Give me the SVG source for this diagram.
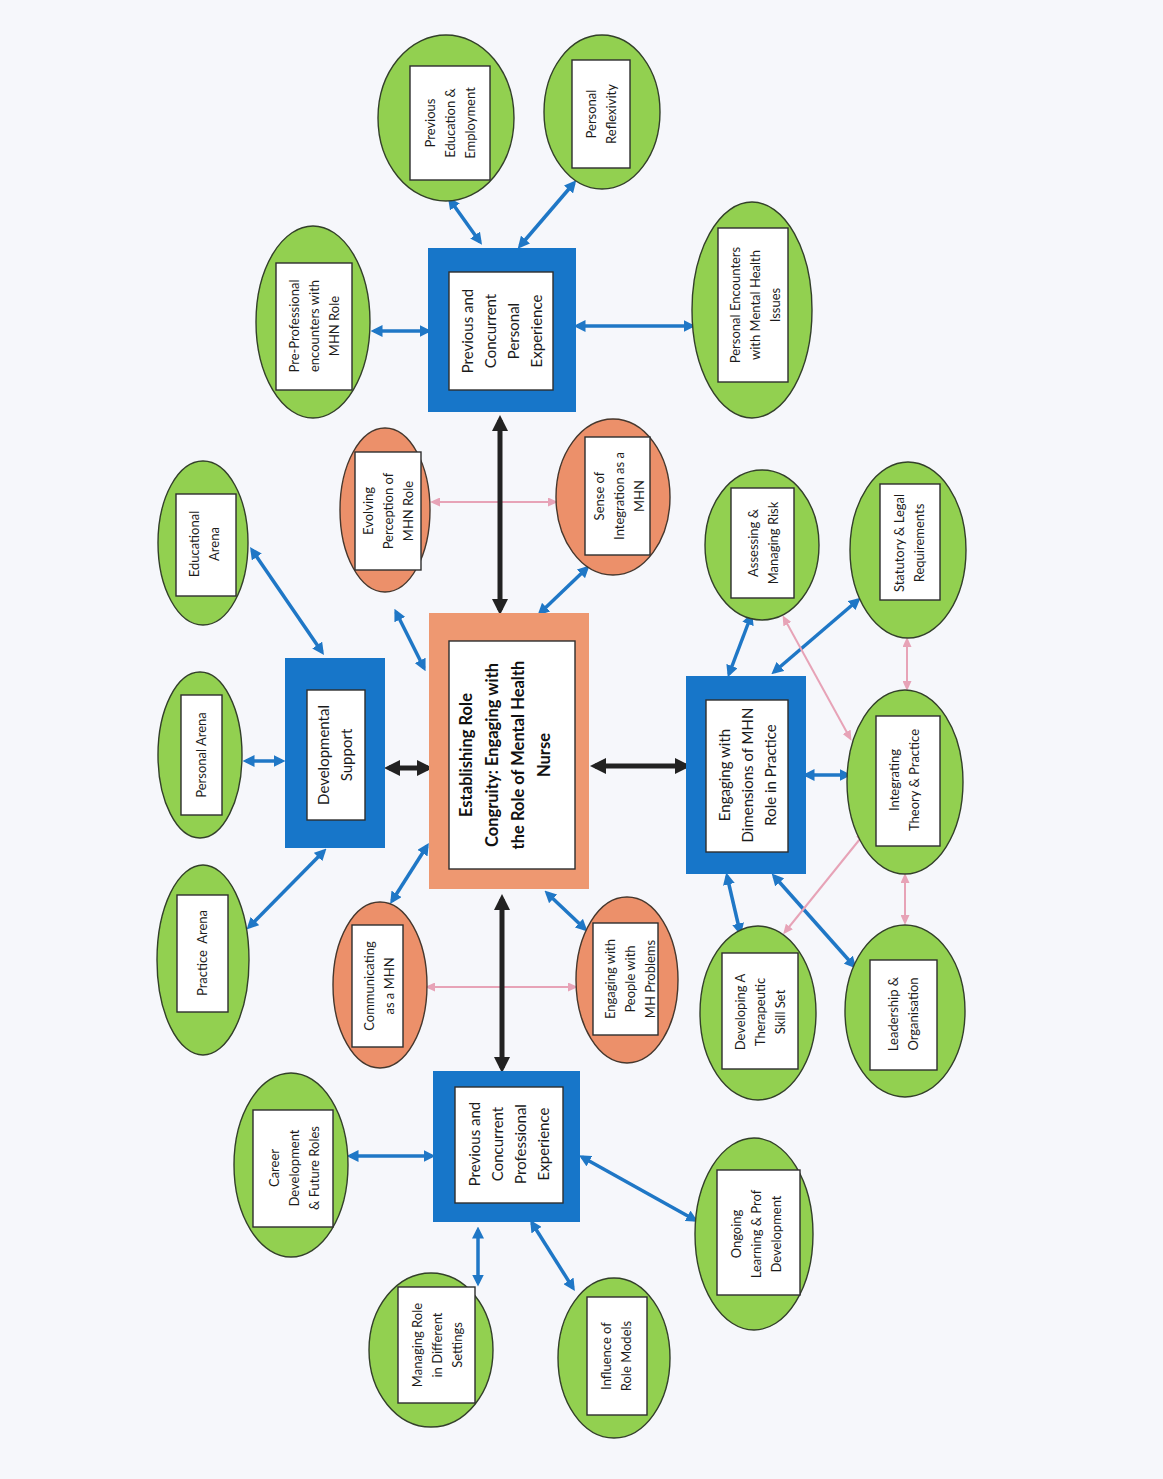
<svg xmlns="http://www.w3.org/2000/svg" width="1163" height="1479" viewBox="0 0 1163 1479">
  <style>
    .g { fill: #92d050; stroke: #33402a; stroke-width: 1.4; }
    .o { fill: #ec906a; stroke: #46372d; stroke-width: 1.4; }
    .lbl { fill: #ffffff; stroke: #2e2e2e; stroke-width: 1.4; }
    .blue { fill: #1776c9; }
    .salmon { fill: #ee9871; }
    .t { font-family: Lato, "Liberation Sans", sans-serif; font-size: 13px; fill: #1b1b1b; text-anchor: middle; }
    .tb { font-family: Lato, "Liberation Sans", sans-serif; font-size: 15px; fill: #1b1b1b; text-anchor: middle; }
    .tc { font-family: Lato, "Liberation Sans", sans-serif; font-size: 16.5px; font-weight: bold; fill: #111; text-anchor: middle; }
    .ab { stroke: #1f77c6; stroke-width: 3.5; fill: none; marker-start: url(#hb); marker-end: url(#hb); }
    .ak { stroke: #222; stroke-width: 5; fill: none; marker-start: url(#hk); marker-end: url(#hk); }
    .ap { stroke: #e7a3b7; stroke-width: 2; fill: none; marker-start: url(#hp); marker-end: url(#hp); }
  </style>
  <defs>
    <marker id="hb" markerUnits="userSpaceOnUse" markerWidth="12" markerHeight="12" refX="8.5" refY="6" orient="auto-start-reverse">
      <path d="M0,0 L12,6 L0,12 z" fill="#1f77c6"/>
    </marker>
    <marker id="hk" markerUnits="userSpaceOnUse" markerWidth="16" markerHeight="16" refX="11" refY="8" orient="auto-start-reverse">
      <path d="M0,0 L16,8 L0,16 z" fill="#222"/>
    </marker>
    <marker id="hp" markerUnits="userSpaceOnUse" markerWidth="10" markerHeight="9" refX="7" refY="4.5" orient="auto-start-reverse">
      <path d="M0,0 L10,4.5 L0,9 z" fill="#e7a3b7"/>
    </marker>
  </defs>

  <rect x="0" y="0" width="1163" height="1479" fill="#f6f7fb"/>

  <!-- connectors -->
  <g id="connectors">
    <line class="ab" x1="374" y1="331" x2="428" y2="331"/>
    <line class="ab" x1="450" y1="200" x2="480" y2="242"/>
    <line class="ab" x1="574" y1="183" x2="520" y2="246"/>
    <line class="ab" x1="577" y1="326" x2="692" y2="326"/>
    <line class="ab" x1="396" y1="612" x2="424" y2="668"/>
    <line class="ab" x1="587" y1="568" x2="540" y2="613"/>
    <line class="ab" x1="252" y1="550" x2="322" y2="652"/>
    <line class="ab" x1="246" y1="761" x2="282" y2="761"/>
    <line class="ab" x1="249" y1="927" x2="324" y2="851"/>
    <line class="ab" x1="392" y1="901" x2="427" y2="846"/>
    <line class="ab" x1="547" y1="893" x2="585" y2="929"/>
    <line class="ab" x1="350" y1="1156" x2="432" y2="1156"/>
    <line class="ab" x1="478" y1="1230" x2="478" y2="1283"/>
    <line class="ab" x1="532" y1="1223" x2="573" y2="1288"/>
    <line class="ab" x1="582" y1="1157" x2="695" y2="1220"/>
    <line class="ab" x1="729" y1="674" x2="751" y2="616"/>
    <line class="ab" x1="774" y1="672" x2="858" y2="600"/>
    <line class="ab" x1="806" y1="775" x2="848" y2="775"/>
    <line class="ab" x1="727" y1="876" x2="740" y2="932"/>
    <line class="ab" x1="774" y1="876" x2="854" y2="966"/>

    <line class="ap" x1="433" y1="502" x2="555" y2="502"/>
    <line class="ap" x1="428" y1="987" x2="575" y2="987"/>
    <line class="ap" x1="784" y1="618" x2="850" y2="738"/>
    <line class="ap" x1="907" y1="640" x2="907" y2="688"/>
    <line class="ap" x1="864" y1="834" x2="785" y2="932"/>
    <line class="ap" x1="905" y1="876" x2="905" y2="922"/>

    <line class="ak" x1="500" y1="420" x2="500" y2="610"/>
    <line class="ak" x1="389" y1="768" x2="428" y2="768"/>
    <line class="ak" x1="595" y1="766" x2="686" y2="766"/>
    <line class="ak" x1="502" y1="899" x2="502" y2="1068"/>
  </g>

  <!-- central concept -->
  <g id="core">
    <rect class="salmon" x="429" y="613" width="160" height="276"/>
    <rect class="lbl" x="449" y="641" width="126" height="228"/>
    <text class="tc" transform="translate(505,755) rotate(-90)"><tspan x="0" y="-33.2">Establishing Role</tspan><tspan x="0" y="-7.2">Congruity: Engaging with</tspan><tspan x="0" y="18.8">the Role of Mental Health</tspan><tspan x="0" y="44.8">Nurse</tspan></text>
  </g>

  <!-- personal experience cluster -->
  <g id="personal-experience">
    <rect class="blue" x="428" y="248" width="148" height="164"/>
    <rect class="lbl" x="449" y="272" width="104" height="118"/>
    <text class="tb" transform="translate(502,331) rotate(-90)"><tspan x="0" y="-29.2">Previous and</tspan><tspan x="0" y="-6.2">Concurrent</tspan><tspan x="0" y="16.8">Personal</tspan><tspan x="0" y="39.8">Experience</tspan></text>
  </g>
  <g id="pre-professional">
    <ellipse class="g" cx="313" cy="322" rx="57" ry="96"/>
    <rect class="lbl" x="276" y="263" width="76" height="127"/>
    <text class="t" transform="translate(314,326) rotate(-90)"><tspan x="0" y="-15.4">Pre-Professional</tspan><tspan x="0" y="4.6">encounters with</tspan><tspan x="0" y="24.6">MHN Role</tspan></text>
  </g>
  <g id="previous-education">
    <ellipse class="g" cx="446" cy="118" rx="68" ry="83"/>
    <rect class="lbl" x="410" y="66" width="80" height="114"/>
    <text class="t" transform="translate(450,123) rotate(-90)"><tspan x="0" y="-15.4">Previous</tspan><tspan x="0" y="4.6">Education &amp;</tspan><tspan x="0" y="24.6">Employment</tspan></text>
  </g>
  <g id="personal-reflexivity">
    <ellipse class="g" cx="602" cy="112" rx="58" ry="77"/>
    <rect class="lbl" x="572" y="60" width="58" height="108"/>
    <text class="t" transform="translate(601,114) rotate(-90)"><tspan x="0" y="-5.4">Personal</tspan><tspan x="0" y="14.6">Reflexivity</tspan></text>
  </g>
  <g id="personal-encounters">
    <ellipse class="g" cx="752" cy="310" rx="60" ry="108"/>
    <rect class="lbl" x="718" y="228" width="70" height="154"/>
    <text class="t" transform="translate(755,305) rotate(-90)"><tspan x="0" y="-15.4">Personal Encounters</tspan><tspan x="0" y="4.6">with Mental Health</tspan><tspan x="0" y="24.6">Issues</tspan></text>
  </g>

  <!-- role perception -->
  <g id="evolving-perception">
    <ellipse class="o" cx="385" cy="510" rx="45" ry="82"/>
    <rect class="lbl" x="355" y="452" width="66" height="118"/>
    <text class="t" transform="translate(388,511) rotate(-90)"><tspan x="0" y="-15.4">Evolving</tspan><tspan x="0" y="4.6">Perception of</tspan><tspan x="0" y="24.6">MHN Role</tspan></text>
  </g>
  <g id="sense-of-integration">
    <ellipse class="o" cx="613" cy="497" rx="57" ry="78"/>
    <rect class="lbl" x="585" y="437" width="65" height="118"/>
    <text class="t" transform="translate(619,496) rotate(-90)"><tspan x="0" y="-15.4">Sense of</tspan><tspan x="0" y="4.6">Integration as a</tspan><tspan x="0" y="24.6">MHN</tspan></text>
  </g>

  <!-- developmental support cluster -->
  <g id="developmental-support">
    <rect class="blue" x="285" y="658" width="100" height="190"/>
    <rect class="lbl" x="307" y="690" width="58" height="130"/>
    <text class="tb" transform="translate(335,755) rotate(-90)"><tspan x="0" y="-6.2">Developmental</tspan><tspan x="0" y="16.8">Support</tspan></text>
  </g>
  <g id="educational-arena">
    <ellipse class="g" cx="203" cy="543" rx="45" ry="82"/>
    <rect class="lbl" x="176" y="494" width="60" height="102"/>
    <text class="t" transform="translate(204,544) rotate(-90)"><tspan x="0" y="-5.4">Educational</tspan><tspan x="0" y="14.6">Arena</tspan></text>
  </g>
  <g id="personal-arena">
    <ellipse class="g" cx="200" cy="755" rx="42" ry="83"/>
    <rect class="lbl" x="181" y="695" width="41" height="120"/>
    <text class="t" transform="translate(201,755) rotate(-90)"><tspan x="0" y="4.6">Personal Arena</tspan></text>
  </g>
  <g id="practice-arena">
    <ellipse class="g" cx="203" cy="960" rx="46" ry="95"/>
    <rect class="lbl" x="177" y="895" width="51" height="117"/>
    <text class="t" transform="translate(202,953) rotate(-90)" style="white-space:pre"><tspan x="0" y="4.6">Practice  Arena</tspan></text>
  </g>

  <!-- interaction -->
  <g id="communicating">
    <ellipse class="o" cx="380" cy="985" rx="47" ry="83"/>
    <rect class="lbl" x="352" y="925" width="51" height="122"/>
    <text class="t" transform="translate(379,986) rotate(-90)"><tspan x="0" y="-5.4">Communicating</tspan><tspan x="0" y="14.6">as a MHN</tspan></text>
  </g>
  <g id="engaging-people">
    <ellipse class="o" cx="627" cy="980" rx="51" ry="83"/>
    <rect class="lbl" x="593" y="923" width="65" height="112"/>
    <text class="t" transform="translate(630,979) rotate(-90)"><tspan x="0" y="-15.4">Engaging with</tspan><tspan x="0" y="4.6">People with</tspan><tspan x="0" y="24.6">MH Problems</tspan></text>
  </g>

  <!-- professional experience cluster -->
  <g id="professional-experience">
    <rect class="blue" x="433" y="1071" width="147" height="151"/>
    <rect class="lbl" x="455" y="1087" width="108" height="116"/>
    <text class="tb" transform="translate(509,1144) rotate(-90)"><tspan x="0" y="-29.2">Previous and</tspan><tspan x="0" y="-6.2">Concurrent</tspan><tspan x="0" y="16.8">Professional</tspan><tspan x="0" y="39.8">Experience</tspan></text>
  </g>
  <g id="career-development">
    <ellipse class="g" cx="291" cy="1165" rx="57" ry="92"/>
    <rect class="lbl" x="253" y="1110" width="80" height="117"/>
    <text class="t" transform="translate(294,1168) rotate(-90)"><tspan x="0" y="-15.4">Career</tspan><tspan x="0" y="4.6">Development</tspan><tspan x="0" y="24.6">&amp; Future Roles</tspan></text>
  </g>
  <g id="managing-role">
    <ellipse class="g" cx="431" cy="1350" rx="62" ry="77"/>
    <rect class="lbl" x="398" y="1287" width="77" height="116"/>
    <text class="t" transform="translate(437,1345) rotate(-90)"><tspan x="0" y="-15.4">Managing Role</tspan><tspan x="0" y="4.6">in Different</tspan><tspan x="0" y="24.6">Settings</tspan></text>
  </g>
  <g id="role-models">
    <ellipse class="g" cx="614" cy="1358" rx="56" ry="80"/>
    <rect class="lbl" x="587" y="1297" width="60" height="118"/>
    <text class="t" transform="translate(616,1356) rotate(-90)"><tspan x="0" y="-5.4">Influence of</tspan><tspan x="0" y="14.6">Role Models</tspan></text>
  </g>
  <g id="ongoing-learning">
    <ellipse class="g" cx="754" cy="1234" rx="59" ry="96"/>
    <rect class="lbl" x="717" y="1170" width="83" height="125"/>
    <text class="t" transform="translate(756,1234) rotate(-90)"><tspan x="0" y="-15.4">Ongoing</tspan><tspan x="0" y="4.6">Learning &amp; Prof</tspan><tspan x="0" y="24.6">Development</tspan></text>
  </g>

  <!-- practice dimensions cluster -->
  <g id="practice-dimensions">
    <rect class="blue" x="686" y="676" width="120" height="198"/>
    <rect class="lbl" x="706" y="700" width="82" height="152"/>
    <text class="tb" transform="translate(748,775) rotate(-90)"><tspan x="0" y="-17.7">Engaging with</tspan><tspan x="0" y="5.3">Dimensions of MHN</tspan><tspan x="0" y="28.3">Role in Practice</tspan></text>
  </g>
  <g id="assessing-risk">
    <ellipse class="g" cx="762" cy="545" rx="57" ry="75"/>
    <rect class="lbl" x="731" y="488" width="63" height="110"/>
    <text class="t" transform="translate(763,543) rotate(-90)"><tspan x="0" y="-5.4">Assessing &amp;</tspan><tspan x="0" y="14.6">Managing Risk</tspan></text>
  </g>
  <g id="statutory-legal">
    <ellipse class="g" cx="908" cy="550" rx="58" ry="88"/>
    <rect class="lbl" x="880" y="484" width="60" height="116"/>
    <text class="t" transform="translate(909,543) rotate(-90)"><tspan x="0" y="-5.4">Statutory &amp; Legal</tspan><tspan x="0" y="14.6">Requirements</tspan></text>
  </g>
  <g id="theory-practice">
    <ellipse class="g" cx="905" cy="782" rx="58" ry="92"/>
    <rect class="lbl" x="876" y="716" width="64" height="130"/>
    <text class="t" transform="translate(904,780) rotate(-90)"><tspan x="0" y="-5.4">Integrating</tspan><tspan x="0" y="14.6">Theory &amp; Practice</tspan></text>
  </g>
  <g id="therapeutic-skills">
    <ellipse class="g" cx="758" cy="1013" rx="58" ry="87"/>
    <rect class="lbl" x="722" y="953" width="76" height="116"/>
    <text class="t" transform="translate(760,1012) rotate(-90)"><tspan x="0" y="-15.4">Developing A</tspan><tspan x="0" y="4.6">Therapeutic</tspan><tspan x="0" y="24.6">Skill Set</tspan></text>
  </g>
  <g id="leadership">
    <ellipse class="g" cx="905" cy="1011" rx="60" ry="86"/>
    <rect class="lbl" x="870" y="960" width="67" height="110"/>
    <text class="t" transform="translate(903,1014) rotate(-90)"><tspan x="0" y="-5.4">Leadership &amp;</tspan><tspan x="0" y="14.6">Organisation</tspan></text>
  </g>
</svg>
